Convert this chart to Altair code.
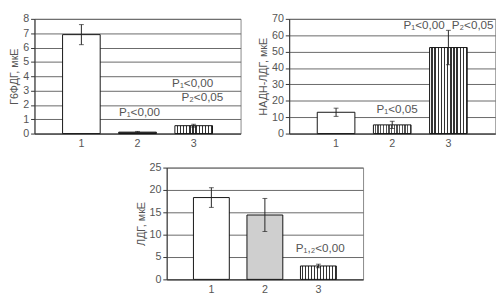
import altair as alt
import pandas as pd

categories = ["1", "2", "3"]

# Panel A: Г6ФДГ
g6_values = [6.9, 0.1, 0.55]
g6_errors = [0.7, 0.05, 0.1]
# Panel B: НАДН-ЛДГ
nadh_values = [13.0, 5.3, 52.5]
nadh_errors = [2.5, 2.2, 10.5]
# Panel C: ЛДГ
ldh_values = [18.3, 14.4, 3.0]
ldh_errors = [2.2, 3.7, 0.4]

# annotations: (text, category, y in data units, dx)
g6_notes = [("P\u2081<0,00", "2", 1.47, 2), ("P\u2081<0,00", "3", 3.53, -1), ("P\u2082<0,05", "3", 2.53, 9)]
nadh_notes = [("P\u2081<0,05", "2", 15.2, 5), ("P\u2081<0,00", "3", 66.0, -25), ("P\u2082<0,05", "3", 66.0, 25)]
ldh_notes = [("P\u2081,\u2082<0,00", "3", 7.0, 2)]

FONT = "Liberation Sans"
TXT = "#555555"


def stripes(n, dark="#333333", light="#ffffff", frac=0.45):
    stops = []
    for i in range(n):
        a = i / n
        b = (i + 1 - frac) / n
        c = (i + 1) / n
        stops += [alt.GradientStop(offset=a, color=light), alt.GradientStop(offset=b, color=light),
                  alt.GradientStop(offset=b, color=dark), alt.GradientStop(offset=c, color=dark)]
    return alt.Gradient(gradient="linear", stops=stops, x1=0, x2=1, y1=0, y2=0)


def panel(values, errors, notes, ytitle, ymax, ystep, fills, width, height):
    df = pd.DataFrame({"cat": categories, "v": values, "e": errors})
    df["lo"] = df["v"] - df["e"]
    df["hi"] = df["v"] + df["e"]
    xaxis = alt.Axis(labelAngle=0, ticks=False, grid=False, domainColor="#333333", labelPadding=4)
    xscale = alt.Scale(paddingInner=0.33, paddingOuter=0.5)
    X = lambda: alt.X("cat:N", sort=categories, title=None, scale=xscale, axis=xaxis)
    yscale = alt.Scale(domain=[0, ymax], nice=False)
    yaxis = alt.Axis(values=list(range(0, ymax + 1, ystep)), title=ytitle, grid=True,
                     gridColor="#666666", tickSize=4, titlePadding=3, labelPadding=2,
                     domainColor="#333333", labelOverlap=False)
    Y = lambda f: alt.Y(f, scale=yscale, axis=yaxis, title=ytitle)
    layers = []
    for c, f in zip(categories, fills):
        layers.append(
            alt.Chart(df).transform_filter(alt.datum.cat == c)
            .mark_bar(fill=f, stroke="#111111", strokeWidth=1)
            .encode(x=X(), y=Y("v:Q"))
        )
    rules = alt.Chart(df).mark_rule(color="#222222", strokeWidth=1).encode(
        x=X(), y=Y("lo:Q"), y2="hi:Q")
    cap_hi = alt.Chart(df).mark_tick(color="#222222", size=5, thickness=1, orient="horizontal").encode(
        x=X(), y=Y("hi:Q"))
    cap_lo = alt.Chart(df).mark_tick(color="#222222", size=5, thickness=1, orient="horizontal").encode(
        x=X(), y=Y("lo:Q"))
    layers += [rules, cap_hi, cap_lo]
    for t, c, yv, dx in notes:
        ndf = pd.DataFrame({"cat": [c], "y": [yv], "t": [t]})
        layers.append(
            alt.Chart(ndf).mark_text(font=FONT, fontSize=12, color=TXT, dx=dx, baseline="middle")
            .encode(x=X(), y=Y("y:Q"), text="t:N")
        )
    return alt.layer(*layers).properties(width=width, height=height)


white = "#ffffff"
p1 = panel(g6_values, g6_errors, g6_notes, "Г6ФДГ, мкЕ", 8, 1,
           [white, "#222222", stripes(12)], 212, 118)
p2 = panel(nadh_values, nadh_errors, nadh_notes, "НАДН-ЛДГ, мкЕ", 70, 10,
           [white, stripes(14, dark="#555555", frac=0.5), stripes(12)], 212, 118)
p3 = panel(ldh_values, ldh_errors, ldh_notes, "ЛДГ, мкЕ", 25, 5,
           [white, "#cfcfcf", stripes(12)], 202, 115)

chart = alt.vconcat(alt.hconcat(p1, p2, spacing=16), p3, spacing=12, center=True).properties(
    padding=0
).configure_view(stroke="#888888").configure_axis(
    labelFont=FONT, titleFont=FONT, labelFontSize=11, titleFontSize=11,
    titleFontWeight="normal", labelColor=TXT, titleColor=TXT, tickColor="#333333"
)

chart.save("out.html", embed_options={"renderer": "svg", "actions": False})
